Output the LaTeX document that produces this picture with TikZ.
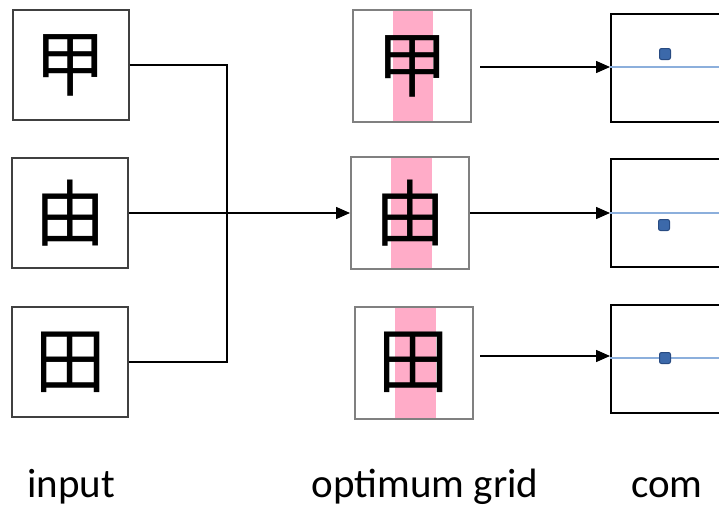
\documentclass[tikz,border=0pt]{standalone}
\usepackage{fontspec}
\setmainfont{Carlito}
\newfontfamily\cjk{Noto Sans CJK SC}
\usetikzlibrary{arrows.meta}
\definecolor{pinkband}{RGB}{255,172,200}
\definecolor{gridline}{RGB}{128,128,128}
\definecolor{leftline}{RGB}{64,64,64}
\definecolor{bluel}{RGB}{140,175,220}
\definecolor{bluesq}{RGB}{60,105,170}
\definecolor{bluesqd}{RGB}{40,75,130}
\tikzset{
  inbox/.style={draw=leftline, line width=2pt, minimum width=116pt, minimum height=110pt, inner sep=0pt, font=\cjk\fontsize{72}{72}\selectfont},
  gridbox/.style={draw=gridline, line width=2pt, minimum width=118pt, minimum height=112pt, inner sep=0pt, font=\cjk\fontsize{72}{72}\selectfont},
  combox/.style={draw=black, line width=2pt, minimum width=130pt, minimum height=108pt, inner sep=0pt},
  band/.style={fill=pinkband, draw=none},
  conn/.style={line width=1.5pt, black},
  arr/.style={conn, -{Triangle[length=14pt,width=12pt]}},
  bline/.style={bluel, line width=2pt},
  sq/.style={fill=bluesq, draw=bluesqd, line width=1pt, rounded corners=2pt, minimum size=11pt, inner sep=0pt},
  lab/.style={font=\fontsize{41}{41}\selectfont, anchor=base, inner sep=0pt}
}
\begin{document}
\begin{tikzpicture}[x=1pt,y=-1pt]
\useasboundingbox (0,0) rectangle (719,506);
\begin{scope}
\clip (0,0) rectangle (719,506);
% left input boxes
\node[inbox] (L1) at (70.5,65) {甲};
\node[inbox] (L2) at (70,213) {由};
\node[inbox] (L3) at (70,362) {田};
% pink bands
\fill[band] (393,10) rectangle (433,122);
\fill[band] (391,157) rectangle (432,269);
\fill[band] (395,307) rectangle (436,418);
% grid boxes
\node[gridbox] (M1) at (412,66) {甲};
\node[gridbox] (M2) at (410,213) {由};
\node[gridbox] (M3) at (413.5,362.5) {田};
% com boxes
\node[combox] (R1) at (676,67.5) {};
\node[combox] (R2) at (676,213) {};
\node[combox] (R3) at (676,359) {};
\draw[bline] (R1.west |- 0,67) -- (730,67);
\draw[bline] (R2.west |- 0,213) -- (730,213);
\draw[bline] (R3.west |- 0,358) -- (730,358);
\node[sq] (S1) at (665,54) {};
\node[sq] (S2) at (664,225) {};
\node[sq] (S3) at (665,358) {};
% connectors
\coordinate (J) at (227,65);
\draw[conn] (L1.east) -- (J) |- (L3.east);
\draw[arr] (L2.east) -- (M2.west);
\coordinate (A1) at (480,67);
\coordinate (A3) at (480,356);
\draw[arr] (A1) -- (R1.west |- A1);
\draw[arr] (M2.east) -- (R2.west);
\draw[arr] (A3) -- (R3.west |- A3);
% labels
\node[lab] (T1) at (71,497) {input};
\node[lab] (T2) at (425,497) {optimum grid};
\node[lab] (T3) at (667,497) {com};
\end{scope}
\end{tikzpicture}
\end{document}
